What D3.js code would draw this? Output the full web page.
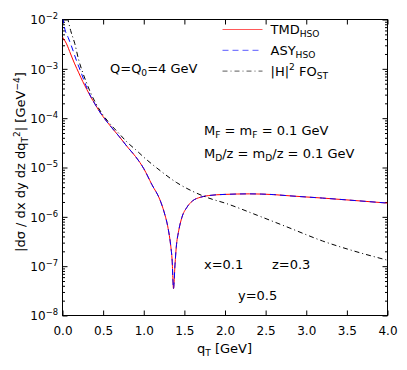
<!DOCTYPE html>
<html lang="en">
<head>
<meta charset="UTF-8">
<title>qT spectrum</title>
<script src="https://cdn.jsdelivr.net/npm/d3@7"></script>
<style>
    body { margin: 0; background: #fff; }
    svg text { font-family: "DejaVu Sans", sans-serif; fill: #000; }
</style>
</head>
<body>
<svg id="chart" width="407" height="370"></svg>
<script>
    // TMD_HSO (red solid)
    const qtTmd = [0, 0.05, 0.1, 0.15, 0.2, 0.25, 0.3, 0.35, 0.4, 0.45, 0.5, 0.6, 0.7, 0.8, 0.9, 1.0, 1.1, 1.2, 1.25, 1.3, 1.33, 1.35, 1.366,
        1.385, 1.4, 1.43, 1.47, 1.53, 1.6, 1.7, 1.8, 2.0, 2.3, 2.6, 2.8, 3.2, 3.6, 4.0];
    const tmd = [4.4e-3, 3.2e-3, 2.0e-3, 1.26e-3, 8.3e-4, 5.5e-4, 3.8e-4, 2.66e-4, 1.93e-4, 1.41e-4, 1.07e-4, 6.6e-5, 4.2e-5, 2.6e-5, 1.66e-5, 9.5e-6,
        4.5e-6, 2.2e-6, 1.26e-6, 5.8e-7, 2.75e-7, 1.26e-7, 3.5e-8,
        1.1e-7, 2.4e-7, 5.2e-7, 9.8e-7, 1.55e-6, 2.1e-6, 2.5e-6, 2.7e-6, 2.85e-6, 2.92e-6, 2.82e-6, 2.66e-6, 2.4e-6, 2.14e-6, 1.9e-6];
    // ASY_HSO (blue dashed)
    const qtAsy = [0, 0.03, 0.07, 0.11, 0.17, 0.23, 0.3, 0.35, 0.4, 0.45, 0.5, 0.6, 0.7, 0.8, 0.9, 1.0, 1.1, 1.2, 1.25, 1.3, 1.33, 1.35, 1.366,
        1.385, 1.4, 1.43, 1.47, 1.53, 1.6, 1.7, 1.8, 2.0, 2.3, 2.6, 2.8, 3.2, 3.6, 4.0];
    const asy = [1.12e-2, 6.3e-3, 4.3e-3, 2.9e-3, 1.5e-3, 8.3e-4, 4.1e-4, 2.7e-4, 1.93e-4, 1.41e-4, 1.07e-4, 6.6e-5, 4.2e-5, 2.6e-5, 1.66e-5, 9.5e-6,
        4.5e-6, 2.2e-6, 1.26e-6, 5.8e-7, 2.75e-7, 1.26e-7, 3.5e-8,
        1.1e-7, 2.4e-7, 5.2e-7, 9.8e-7, 1.55e-6, 2.1e-6, 2.5e-6, 2.7e-6, 2.85e-6, 2.92e-6, 2.82e-6, 2.66e-6, 2.4e-6, 2.14e-6, 1.9e-6];
    // |H|^2 FO_ST (black dash-dot)
    const qtFo = [0.06, 0.1, 0.15, 0.2, 0.25, 0.3, 0.35, 0.4, 0.5, 0.6, 0.7, 0.8, 0.9, 1.0, 1.2, 1.4, 1.6, 1.8, 2.0, 2.4, 2.8, 3.2, 3.6, 4.0];
    const fo = [1.12e-2, 6.0e-3, 3.3e-3, 1.5e-3, 8.3e-4, 5.0e-4, 3.16e-4, 2.14e-4, 1.15e-4, 7.2e-5, 4.8e-5, 3.2e-5, 2.3e-5, 1.62e-5,
        8.7e-6, 5.0e-6, 3.3e-6, 2.4e-6, 1.9e-6, 1.07e-6, 5.9e-7, 3.24e-7, 2.0e-7, 1.32e-7];

    const xTicks = [0, 0.5, 1.0, 1.5, 2.0, 2.5, 3.0, 3.5, 4.0];
    const yExponents = [-8, -7, -6, -5, -4, -3, -2];

    const width = 407, height = 370;
    const margin = {left: 62, right: 20, top: 19, bottom: 55};
    const w = width - margin.left - margin.right;
    const h = height - margin.top - margin.bottom;

    const svg = d3.select('#chart');
    const g = svg.append('g').attr('transform', `translate(${margin.left + 0.5},${margin.top + 0.5})`);

    const x = d3.scaleLinear().domain([0, 4]).range([0, w]);
    const y = d3.scaleLog().domain([1e-8, 1e-2]).range([h, 0]);

    const majors = yExponents.map(e => Math.pow(10, e));
    const minors = [];
    yExponents.slice(0, -1).forEach(e => { for (let k = 2; k < 10; k++) minors.push(k * Math.pow(10, e)); });

    // rich text helper: parts = [[text, 'sub'|'sup'|null], ...]
    function rich(sel, parts, size) {
        let shift = 0;
        parts.forEach(([t, k]) => {
            const target = k === 'sub' ? size * 0.24 : k === 'sup' ? -size * 0.42 : 0;
            sel.append('tspan')
                .attr('dy', target - shift)
                .attr('font-size', k ? size * 0.7 : size)
                .text(t);
            shift = target;
        });
    }

    // axes
    g.append('g').attr('class', 'axisx').attr('transform', `translate(0,${h})`)
        .call(d3.axisBottom(x).tickValues(xTicks).tickSize(-5).tickSizeOuter(0).tickPadding(11).tickFormat(d3.format('.1f')));
    g.append('g').attr('class', 'axisxtop')
        .call(d3.axisTop(x).tickValues(xTicks).tickSize(-5).tickSizeOuter(0).tickFormat(''));
    g.append('g').attr('class', 'axisy')
        .call(d3.axisLeft(y).tickValues(majors).tickSize(-5).tickSizeOuter(0).tickFormat(''));
    g.append('g').attr('class', 'axisyminor')
        .call(d3.axisLeft(y).tickValues(minors).tickSize(-2.5).tickSizeOuter(0).tickFormat(''));
    g.append('g').attr('class', 'axisyr').attr('transform', `translate(${w},0)`)
        .call(d3.axisRight(y).tickValues(majors).tickSize(-5).tickSizeOuter(0).tickFormat(''));
    g.append('g').attr('class', 'axisyrminor').attr('transform', `translate(${w},0)`)
        .call(d3.axisRight(y).tickValues(minors).tickSize(-2.5).tickSizeOuter(0).tickFormat(''));
    g.selectAll('.domain').remove();
    g.selectAll('.tick line').attr('stroke', '#000');
    g.select('.axisx').selectAll('text').attr('font-size', 12).attr('font-family', '"DejaVu Sans", sans-serif');

    g.select('.axisy').selectAll('.tick').each(function (d) {
        const t = d3.select(this).append('text')
            .attr('x', -4.5).attr('y', 4.4).attr('text-anchor', 'end').attr('fill', '#000');
        rich(t, [['10', null], ['\u2212' + (-Math.round(Math.log10(d))), 'sup']], 12);
    });

    g.append('rect').attr('width', w).attr('height', h)
        .attr('fill', 'none').attr('stroke', '#000').attr('stroke-width', 1);

    // curves
    g.append('clipPath').attr('id', 'clip').append('rect').attr('width', w).attr('height', h);
    const plot = g.append('g').attr('clip-path', 'url(#clip)');
    const line = d3.line().curve(d3.curveMonotoneX).x(d => x(d[0])).y(d => y(d[1]));

    const series = [
        {q: qtTmd, v: tmd, color: '#ff0000', dash: null},
        {q: qtAsy, v: asy, color: '#0000ff', dash: '6,4'},
        {q: qtFo, v: fo, color: '#000000', dash: '5,3,1,3'}
    ];
    series.forEach(s => {
        plot.append('path')
            .attr('d', line(d3.zip(s.q, s.v)))
            .attr('fill', 'none')
            .attr('stroke', s.color)
            .attr('stroke-width', 1)
            .attr('stroke-dasharray', s.dash);
    });

    // legend
    const legendLabels = [
        [['TMD', null], ['HSO', 'sub']],
        [['ASY', null], ['HSO', 'sub']],
        [['|H|', null], ['2', 'sup'], [' FO', null], ['ST', 'sub']]
    ];
    legendLabels.forEach((lab, i) => {
        const ly = 29 + i * 20.8 - margin.top;
        g.append('line')
            .attr('x1', 222 - margin.left).attr('x2', 262 - margin.left)
            .attr('y1', ly).attr('y2', ly)
            .attr('stroke', series[i].color).attr('stroke-opacity', 0.65)
            .attr('stroke-width', 1).attr('stroke-dasharray', series[i].dash);
        const t = g.append('text').attr('x', 270 - margin.left).attr('y', ly + 4.8);
        rich(t, lab, 13);
    });

    // annotations
    const notes = [
        {x: 110, y: 72.5, parts: [['Q=Q', null], ['0', 'sub'], ['=4 GeV', null]]},
        {x: 204, y: 134.5, parts: [['M', null], ['F', 'sub'], [' = m', null], ['F', 'sub'], [' = 0.1 GeV', null]]},
        {x: 204, y: 157.5, parts: [['M', null], ['D', 'sub'], ['/z = m', null], ['D', 'sub'], ['/z = 0.1 GeV', null]]},
        {x: 204, y: 268.5, parts: [['x=0.1', null]]},
        {x: 272, y: 268.5, parts: [['z=0.3', null]]},
        {x: 238, y: 299.5, parts: [['y=0.5', null]]}
    ];
    notes.forEach(n => {
        const t = svg.append('text').attr('x', n.x).attr('y', n.y);
        rich(t, n.parts, 13);
    });

    // axis labels
    const xl = svg.append('text').attr('x', margin.left + w / 2).attr('y', 353).attr('text-anchor', 'middle');
    rich(xl, [['q', null], ['T', 'sub'], [' [GeV]', null]], 13);
    const yl = svg.append('text').attr('text-anchor', 'middle')
        .attr('transform', 'translate(25,162) rotate(-90)');
    rich(yl, [['|d\u03c3 / dx dy dz dq', null], ['T', 'sub'], ['2', 'sup'], ['| [GeV', null], ['\u22124', 'sup'], [']', null]], 13);
</script>
</body>
</html>
